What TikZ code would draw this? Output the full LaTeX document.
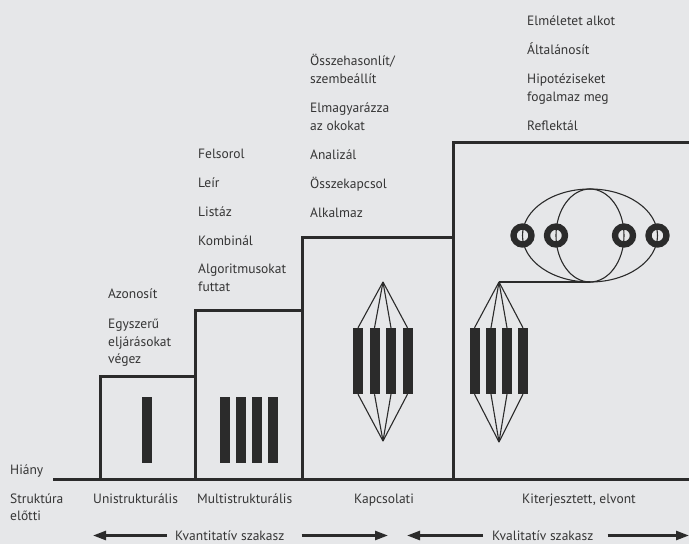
\documentclass[tikz,border=0pt]{standalone}
\usepackage{fontspec}
\setmainfont{PT Sans}
\usetikzlibrary{arrows.meta}
\definecolor{bg}{HTML}{E6E7E9}
\definecolor{ink}{HTML}{2B2B2B}
\definecolor{txt}{HTML}{353535}
\begin{document}
\begin{tikzpicture}[x=1pt,y=-1pt,
  lbl/.style={anchor=base west,inner sep=0pt,text=txt,font=\fontsize{13.5}{16}\selectfont},
  outline/.style={draw=ink,line width=3pt,line join=miter},
  bar/.style={fill=ink,draw=none,minimum width=10pt,minimum height=66pt,inner sep=0pt},
  fan/.style={draw=ink,line width=1.1pt},
  ring/.style={draw=ink,line width=6.3pt},
  phase/.style={draw=ink,line width=2.5pt,-{Triangle[length=13pt,width=9pt]}}]
% canvas
\fill[bg] (0,0) rectangle (689,544);
\useasboundingbox (0,0) rectangle (689,544);

% staircase of levels
\draw[outline] (53,479) -- (689,479);
\draw[outline] (100,479) |- (195,376.5) |- (302,310) |- (453,237) |- (689,142);
\draw[outline] (195,376.5) -- (195,479);
\draw[outline] (302,310) -- (302,479);
\draw[outline] (453,237) -- (453,479);

% unistructural: one element
\node[bar] (u1) at (147,430) {};

% multistructural: four separate elements
\node[bar] (m1) at (225,430) {};
\node[bar] (m2) at (241,430) {};
\node[bar] (m3) at (257,430) {};
\node[bar] (m4) at (273,430) {};

% relational: four elements joined above and below
\node[bar] (r1) at (358,361) {};
\node[bar] (r2) at (374.5,361) {};
\node[bar] (r3) at (391,361) {};
\node[bar] (r4) at (407.5,361) {};
\coordinate (rt) at (383,282);
\coordinate (rb) at (383,441);
\foreach \b in {r1,r2,r3,r4}{
  \draw[fan] (rt) -- (\b.north);
  \draw[fan] (rb) -- (\b.south);
}

% extended abstract: joined elements linked to a wider structure
\node[bar] (e1) at (474.5,361) {};
\node[bar] (e2) at (491,361) {};
\node[bar] (e3) at (507,361) {};
\node[bar] (e4) at (523,361) {};
\coordinate (et) at (499,282);
\coordinate (eb) at (499,442);
\foreach \b in {e1,e2,e3,e4}{
  \draw[fan] (et) -- (\b.north);
  \draw[fan] (eb) -- (\b.south);
}
\coordinate (ec) at (590,235.5);
\coordinate (elow) at (590,282);
\draw[fan] (et) -- (elow);
\draw[fan] (ec) ellipse[x radius=67.5pt,y radius=46.5pt];
\draw[fan] (ec) ellipse[x radius=34pt,y radius=46.5pt];
\draw[ring] (522.5,235.5) circle[radius=9pt];
\draw[ring] (556,235.5) circle[radius=9pt];
\draw[ring] (624,235.5) circle[radius=9pt];
\draw[ring] (657.5,235.5) circle[radius=9pt];

% verbs of each level
\node[lbl] (a1) at (108,298) {Azonosít};
\node[lbl] (a2) at (108,328) {Egyszerű};
\node[lbl] (a3) at (108,346) {eljárásokat};
\node[lbl] (a4) at (108,363.5) {végez};

\node[lbl] (b1) at (198,158) {Felsorol};
\node[lbl] (b2) at (198,187) {Leír};
\node[lbl] (b3) at (198,216) {Listáz};
\node[lbl] (b4) at (198,245) {Kombinál};
\node[lbl] (b5) at (198,273) {Algoritmusokat};
\node[lbl] (b6) at (198,291.5) {futtat};

\node[lbl] (c1) at (310,65) {Összehasonlít/};
\node[lbl] (c2) at (310,83) {szembeállít};
\node[lbl] (c3) at (310,112) {Elmagyarázza};
\node[lbl] (c4) at (310,130) {az okokat};
\node[lbl] (c5) at (310,159) {Analizál};
\node[lbl] (c6) at (310,188) {Összekapcsol};
\node[lbl] (c7) at (310,217) {Alkalmaz};

\node[lbl] (d1) at (527,25) {Elméletet alkot};
\node[lbl] (d2) at (527,54) {Általánosít};
\node[lbl] (d3) at (527,83) {Hipotéziseket};
\node[lbl] (d4) at (527,101) {fogalmaz meg};
\node[lbl] (d5) at (527,130) {Reflektál};

% level names
\node[lbl] (h0) at (10,474) {Hiány};
\node[lbl] (s1) at (10,503) {Struktúra};
\node[lbl] (s2) at (10,520.5) {előtti};
\node[lbl] (s3) at (93,503) {Unistrukturális};
\node[lbl] (s4) at (197,503) {Multistrukturális};
\node[lbl] (s5) at (354,503) {Kapcsolati};
\node[lbl] (s6) at (522,503) {Kiterjesztett, elvont};

% phases
\node[lbl] (q1) at (175,540) {Kvantitatív szakasz};
\node[lbl] (q2) at (492,540) {Kvalitatív szakasz};
\coordinate (q1l) at (93,535.5);
\coordinate (q1r) at (388,535.5);
\coordinate (q2l) at (407,535.5);
\coordinate (q2r) at (689,535.5);
\draw[phase] (q1.west |- q1l) ++(-8,0) -- (q1l);
\draw[phase] (q1.east |- q1r) ++(17,0) -- (q1r);
\draw[phase] (q2.west |- q2l) ++(-9,0) -- (q2l);
\draw[phase] (q2.east |- q2r) ++(14,0) -- (q2r);
\end{tikzpicture}
\end{document}
